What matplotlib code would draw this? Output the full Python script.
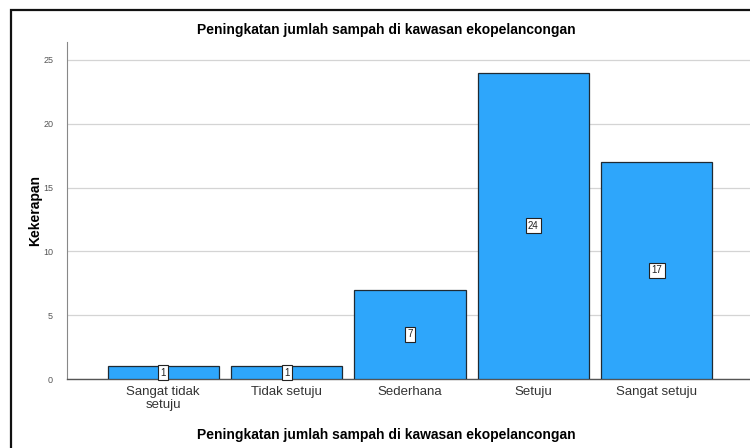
import matplotlib.pyplot as plt
from matplotlib.patches import Rectangle

# Data
categories = ["Sangat tidak\nsetuju", "Tidak setuju", "Sederhana", "Setuju", "Sangat setuju"]
counts = [1, 1, 7, 24, 17]
title = "Peningkatan jumlah sampah di kawasan ekopelancongan"

plt.rcParams['font.family'] = ['Liberation Sans', 'DejaVu Sans']

W, H = 750, 448
fig = plt.figure(figsize=(7.5, 4.48), dpi=100)

# axes placed in pixel units (right side runs past the image edge)
left, right, top, bottom = 67, 753, 42, 379
ax = fig.add_axes([left / W, (H - bottom) / H, (right - left) / W, (bottom - top) / H])

x = list(range(len(categories)))
ax.bar(x, counts, width=0.9, color='#2ea6fb', edgecolor='#1f2a33', linewidth=0.9, zorder=3)

for xi, c in zip(x, counts):
    ax.text(xi, c / 2, str(c), ha='center', va='center', fontsize=7, color='#222222', zorder=4,
            bbox=dict(boxstyle='square,pad=0.25', fc='white', ec='#222222', lw=0.8))

ax.set_xlim(-0.78, 4.78)
ax.set_ylim(0, 26.4)
ax.set_yticks([0, 5, 10, 15, 20, 25])
ax.set_xticks(x)
ax.set_xticklabels(categories, fontsize=9.5, color='#333333', linespacing=1.15)
ax.tick_params(axis='y', length=0, pad=10, labelsize=6.5, labelcolor='#555555')
ax.tick_params(axis='x', length=0, pad=5)

ax.grid(axis='y', color='#d4d4d4', linewidth=0.9, zorder=0)
ax.set_axisbelow(True)
for s in ['top', 'right']:
    ax.spines[s].set_visible(False)
ax.spines['left'].set_color('#888888')
ax.spines['left'].set_linewidth(0.8)
ax.spines['bottom'].set_color('#555555')
ax.spines['bottom'].set_linewidth(1.0)

ax.set_ylabel("Kekerapan", fontsize=10, fontweight='bold')
ax.yaxis.set_label_coords((42 - left) / (right - left), 0.5)
fig.text(386 / W, 1 - 30 / H, title, ha='center', va='center', fontsize=10, fontweight='bold')
fig.text(386 / W, 1 - 435 / H, title, ha='center', va='center', fontsize=10, fontweight='bold')

# outer frame that runs off the right and bottom edges
fig.patches.append(Rectangle((11 / W, -0.1), 1.2, 1 - 10 / H + 0.1, transform=fig.transFigure,
                             fill=False, ec='#111111', lw=1.6, zorder=10))

fig.savefig("out.png", dpi=100)
